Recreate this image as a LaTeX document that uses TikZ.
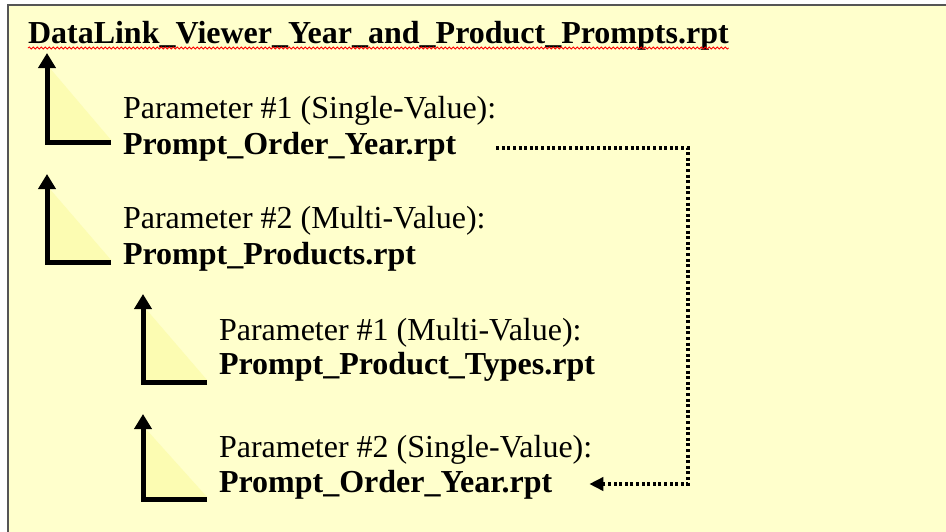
\documentclass[tikz,border=0pt]{standalone}
\usepackage{fontspec}
\setmainfont{Liberation Serif}
\usetikzlibrary{arrows.meta,decorations.pathmorphing}
\definecolor{bgyellow}{RGB}{255,255,204}
\definecolor{triyellow}{RGB}{252,252,178}
\definecolor{framegray}{RGB}{85,85,85}
\tikzset{
  txt/.style={anchor=base west,inner sep=0pt,outer sep=0pt,font=\rmfamily\fontsize{32}{37}\selectfont},
  btxt/.style={txt,font=\rmfamily\fontsize{32}{37}\selectfont\bfseries},
  thickarrow/.style={line width=5pt,line join=miter,-{Triangle[length=15pt,width=17pt]}},
  tri/.style={fill=triyellow,draw=none},
  dotconn/.style={line width=3.5pt,dash pattern=on 3pt off 2.6pt,-{Triangle[length=14pt,width=13pt]}},
  wavy/.style={red,line width=0.8pt,decorate,decoration={snake,amplitude=1.1pt,segment length=4pt}}
}
\begin{document}
\begin{tikzpicture}[x=1pt,y=-1pt]
\useasboundingbox (0,0) rectangle (946,531);
\clip (0,0) rectangle (946,531);
\fill[white] (0,0) rectangle (946,531);
\draw[framegray,line width=2pt,fill=bgyellow] (8,5) rectangle (970,560);

% title
\node[btxt] (title) at (28,43) {DataLink\_Viewer\_Year\_and\_Product\_Prompts.rpt};
\draw[wavy] (title.base west) ++(0,5) coordinate (w1) -- (w1 -| title.base east);

% group 1
\node[txt]  (p1a) at (123,118) {Parameter \#1 (Single-Value):};
\node[btxt] (p1b) at (123,154) {Prompt\_Order\_Year.rpt};
% group 2
\node[txt]  (p2a) at (123,228) {Parameter \#2 (Multi-Value):};
\node[btxt] (p2b) at (123,264) {Prompt\_Products.rpt};
% group 3
\node[txt]  (p3a) at (219,340) {Parameter \#1 (Multi-Value):};
\node[btxt] (p3b) at (219,374) {Prompt\_Product\_Types.rpt};
% group 4
\node[txt]  (p4a) at (219,457) {Parameter \#2 (Single-Value):};
\node[btxt] (p4b) at (219,492) {Prompt\_Order\_Year.rpt};

% L-shaped arrows with light triangles
\foreach \i/\x/\t/\c/\e in {1/47/53/142/111, 2/47/174/262/111, 3/143/294/382/207, 4/143/414/499/207}{
  \coordinate (tip\i) at (\x,\t);
  \coordinate (cor\i) at (\x,\c);
  \coordinate (end\i) at (\e,\c);
  \fill[tri] (\x+2,\t+14) -- (\x+2,\c-2) -- (\e,\c-2) -- cycle;
  \draw[thickarrow] (end\i) -- (cor\i) -- (tip\i);
}

% dotted connector
\coordinate (ds) at ([xshift=40pt,yshift=6pt]p1b.base east);
\coordinate (de) at ([xshift=37pt,yshift=8pt]p4b.base east);
\coordinate (turn) at (688,0);
\draw[dotconn] (ds) -- (ds -| turn) |- (de);
\end{tikzpicture}
\end{document}
